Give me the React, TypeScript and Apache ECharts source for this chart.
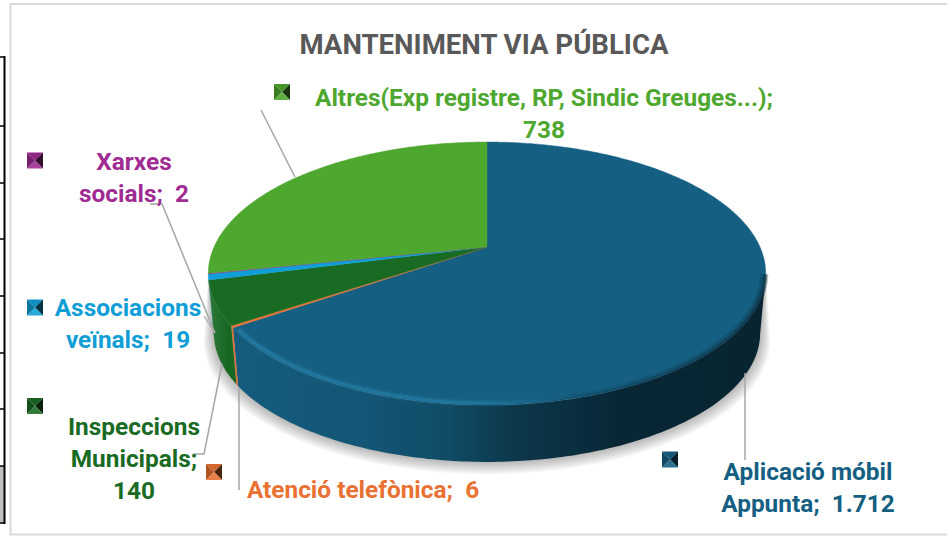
import React, { useEffect, useRef } from "react";
import * as echarts from "echarts";

const categories = ["Aplicació mòbil Appunta", "Atenció telefònica", "Inspeccions Municipals", "Associacions veïnals", "Xarxes socials", "Altres(Exp registre, RP, Sindic Greuges...)"];
const values = [1712, 6, 140, 19, 2, 738];
const sliceColors = ["#156082", "#e97132", "#196b24", "#0f9ed5", "#a02b93", "#4ea72e"];
const chartTitle = "MANTENIMENT VIA PÚBLICA";

const FONT = "Roboto";
const total = values.reduce((a, b) => a + b, 0);
const starts: number[] = [];
values.reduce((acc, v, i) => { starts[i] = acc; return acc + v; }, 0);
const angle = (v: number) => (v / total) * Math.PI * 2;

// perspective disc geometry
const CX = 487, CY = 247, RX = 273, RY = 126.2, K = 0.2016;
const FRONT_A = (102 / 180) * Math.PI, FRONT_B = (258 / 180) * Math.PI;
const BOTTOM_SCALE = 0.98, BOTTOM_DY = 60;

function rim(t: number, r = 1): number[] {
  const u = Math.sin(t), v = Math.cos(t), w = 1 + K * r * v;
  return [CX + (RX * r * u) / w, CY - (RY * r * v) / w];
}
function floorRim(t: number): number[] {
  const u = Math.sin(t), v = Math.cos(t), w = 1 + K * v;
  return [CX + (RX * BOTTOM_SCALE * u) / w, CY - (RY * BOTTOM_SCALE * v) / w + BOTTOM_DY];
}
function arc(a: number, b: number, f: (t: number) => number[]): number[][] {
  const n = Math.max(2, Math.ceil(Math.abs(b - a) / 0.015));
  const pts: number[][] = [];
  for (let i = 0; i <= n; i++) pts.push(f(a + ((b - a) * i) / n));
  return pts;
}
function hex(c: string): number[] {
  return [1, 3, 5].map((i) => parseInt(c.slice(i, i + 2), 16));
}
function mix(c: string, target: number, t: number, alpha = 1): string {
  const [r, g, b] = hex(c).map((x) => Math.round(x + (target - x) * t));
  return `rgba(${r},${g},${b},${alpha})`;
}
function sideFill(c: string) {
  return {
    type: "linear", x: 205, y: 0, x2: 765, y2: 0, global: true,
    colorStops: [
      { offset: 0, color: mix(c, 255, 0.12) },
      { offset: 0.04, color: mix(c, 0, 0.04) },
      { offset: 0.28, color: mix(c, 0, 0.1) },
      { offset: 0.42, color: mix(c, 0, 0.2) },
      { offset: 0.55, color: mix(c, 0, 0.42) },
      { offset: 0.75, color: mix(c, 0, 0.6) },
      { offset: 1, color: mix(c, 0, 0.62) },
    ],
  };
}
// soft ridge along the near rim: bright on the left, fading into shade on the right
function ridge(op: number) {
  return {
    type: "linear", x: 235, y: 0, x2: 765, y2: 0, global: true,
    colorStops: [
      { offset: 0, color: `rgba(40,130,172,${0.9 * op})` },
      { offset: 0.45, color: `rgba(40,130,172,${0.8 * op})` },
      { offset: 0.62, color: `rgba(30,110,150,${0.15 * op})` },
      { offset: 0.68, color: `rgba(10,40,56,0)` },
      { offset: 1, color: `rgba(10,40,56,0)` },
    ],
  };
}
function shade(op: number) {
  return {
    type: "linear", x: 235, y: 0, x2: 765, y2: 0, global: true,
    colorStops: [
      { offset: 0.5, color: `rgba(10,40,56,0)` },
      { offset: 0.72, color: `rgba(10,40,56,${0.4 * op})` },
      { offset: 1, color: `rgba(10,40,56,${0.8 * op})` },
    ],
  };
}

function renderSide(params: any, api: any) {
  const i = params.dataIndex;
  const a = Math.max(angle(starts[i]), FRONT_A);
  const b = Math.min(angle(starts[i] + api.value(0)), FRONT_B);
  if (b <= a) return { type: "group", children: [] };
  const pts = [...arc(a, b, rim), ...arc(b, a, floorRim)];
  return { type: "polygon", shape: { points: pts }, style: { fill: sideFill(sliceColors[i]) } };
}
function renderTop(params: any, api: any) {
  const i = params.dataIndex;
  const a0 = angle(starts[i]);
  const b0 = angle(starts[i] + api.value(0));
  const children: any[] = [
    { type: "polygon", shape: { points: [[CX, CY], ...arc(a0, b0, rim)] }, style: { fill: sliceColors[i], stroke: sliceColors[i], lineWidth: 0.4 } },
  ];
  const a = Math.max(a0 + 0.012, FRONT_A), b = Math.min(b0, FRONT_B);
  if (b > a && i === 0) {
    const near = (r: number) => arc(a, b - 0.02, (t) => rim(t, r));
    const line = (r: number, stroke: any, lineWidth: number) => ({ type: "polyline", shape: { points: near(r) }, style: { fill: "none", stroke, lineWidth } });
    children.push(
      line(0.995, shade(0.35), 8),
      line(0.998, shade(0.6), 4),
      line(0.99, ridge(0.18), 7),
      line(0.99, ridge(0.3), 4.5),
      line(0.99, ridge(0.6), 2),
    );
  }
  return { type: "group", children };
}
// ground shadow: stacked translucent outlines widening under the body
function renderBody() {
  const children: any[] = [];
  for (let j = 9; j >= 1; j--) {
    const grow = (t: number) => {
      const [x, y] = floorRim(t);
      const s = 1 + j * 0.0042;
      return [CX + (x - CX) * s, CY + 30 + (y - CY - 30) * s + j * 0.6];
    };
    children.push({
      type: "polygon",
      shape: { points: [...arc(FRONT_A, FRONT_B, rim), ...arc(FRONT_B, FRONT_A, grow)] },
      style: { fill: "rgba(0,0,0,0.032)" },
    });
  }
  return { type: "group", children };
}

function pyramid(cx: number, cy: number, c: string) {
  const s = 8, tl = [cx - s, cy - s], tr = [cx + s, cy - s], br = [cx + s, cy + s], bl = [cx - s, cy + s], m = [cx, cy];
  const face = (p: number[][], fill: string) => ({ type: "polygon", z: 20, shape: { points: p }, style: { fill } });
  return [
    face([tl, tr, m], mix(c, 0, 0.1)),
    face([tr, br, m], mix(c, 0, 0.68)),
    face([br, bl, m], mix(c, 255, 0.1)),
    face([bl, tl, m], mix(c, 0, 0.25)),
  ];
}
function label(text: string, x: number, y: number, fill: string) {
  return {
    type: "text", z: 20, x, y: y - 0.5,
    style: { text, fill, font: `bold 24.4px ${FONT}`, textAlign: "center", textVerticalAlign: "middle" },
  };
}
function leader(points: number[][], op = 1) {
  return { type: "polyline", z: 15, shape: { points }, style: { fill: "none", stroke: "#a6a6a6", lineWidth: 1.5, opacity: op } };
}

export default function App() {
  const ref = useRef<HTMLDivElement>(null);
  useEffect(() => {
    const chart = echarts.init(ref.current!, undefined, { renderer: "svg" });
    const frame = "#d9d9d9";
    const rowYs = [57, 126, 183, 239, 296, 353, 409, 466, 523];
    const graphic: any[] = [
      { type: "rect", z: 1, shape: { x: 0, y: 466, width: 4, height: 57 }, style: { fill: "#bfbfbf" } },
      { type: "line", z: 2, shape: { x1: 4.5, y1: 56, x2: 4.5, y2: 524 }, style: { stroke: "#000", lineWidth: 2 } },
      ...rowYs.map((y) => ({ type: "line", z: 2, shape: { x1: 0, y1: y, x2: 5, y2: y }, style: { stroke: "#000", lineWidth: 1.5 } })),
      { type: "polyline", z: 2, shape: { points: [[947, 4], [10.5, 4], [10.5, 534.5], [947, 534.5]] }, style: { fill: "none", stroke: frame, lineWidth: 2 } },
      leader([[261, 110], [295, 177]]),
      leader([[150, 204], [162, 204], [215, 333]]),
      leader([[204, 316], [215, 333]], 0.7),
      leader([[193, 454], [204, 454], [222, 364]]),
      leader([[239, 388], [239, 490]]),
      leader([[745, 373], [745, 460]]),
      ...pyramid(35, 160.5, sliceColors[4]),
      ...pyramid(35, 307.5, sliceColors[3]),
      ...pyramid(35, 406, sliceColors[2]),
      ...pyramid(214, 472, sliceColors[1]),
      ...pyramid(282, 92, sliceColors[5]),
      ...pyramid(670, 459.5, sliceColors[0]),
      label("Altres(Exp registre, RP, Sindic Greuges...);", 544, 98, sliceColors[5]),
      label("738", 544, 130, sliceColors[5]),
      label("Xarxes", 134, 162, sliceColors[4]),
      label("socials;\u00a0\u00a02", 134, 194, sliceColors[4]),
      label("Associacions", 128, 308, sliceColors[3]),
      label("veïnals;\u00a0\u00a019", 128, 340, sliceColors[3]),
      label("Inspeccions", 134, 427, sliceColors[2]),
      label("Municipals;", 134, 459, sliceColors[2]),
      label("140", 134, 491, sliceColors[2]),
      label("Atenció telefònica;\u00a0\u00a06", 363, 490, sliceColors[1]),
      label("Aplicació móbil", 808, 472, sliceColors[0]),
      label("Appunta;\u00a0\u00a01.712", 808, 504, sliceColors[0]),
    ];
    chart.setOption({
      animation: false,
      backgroundColor: "#ffffff",
      title: {
        text: chartTitle, left: 479, top: 25, textAlign: "center",
        textStyle: { color: "#595959", fontFamily: FONT, fontWeight: "bold", fontSize: 27.6 },
      },
      graphic,
      series: [
        { type: "custom", name: "body", coordinateSystem: "none", silent: true, z: 3, data: [0], renderItem: renderBody },
        { type: "custom", name: "side", coordinateSystem: "none", silent: true, z: 4, data: values, renderItem: renderSide },
        { type: "custom", name: "top", coordinateSystem: "none", silent: true, z: 5, data: values, renderItem: renderTop },
      ],
    });
    return () => chart.dispose();
  }, []);
  return <div ref={ref} aria-label={categories.join(", ")} style={{ position: "absolute", left: 0, top: 0, width: 947, height: 536 }} />;
}
